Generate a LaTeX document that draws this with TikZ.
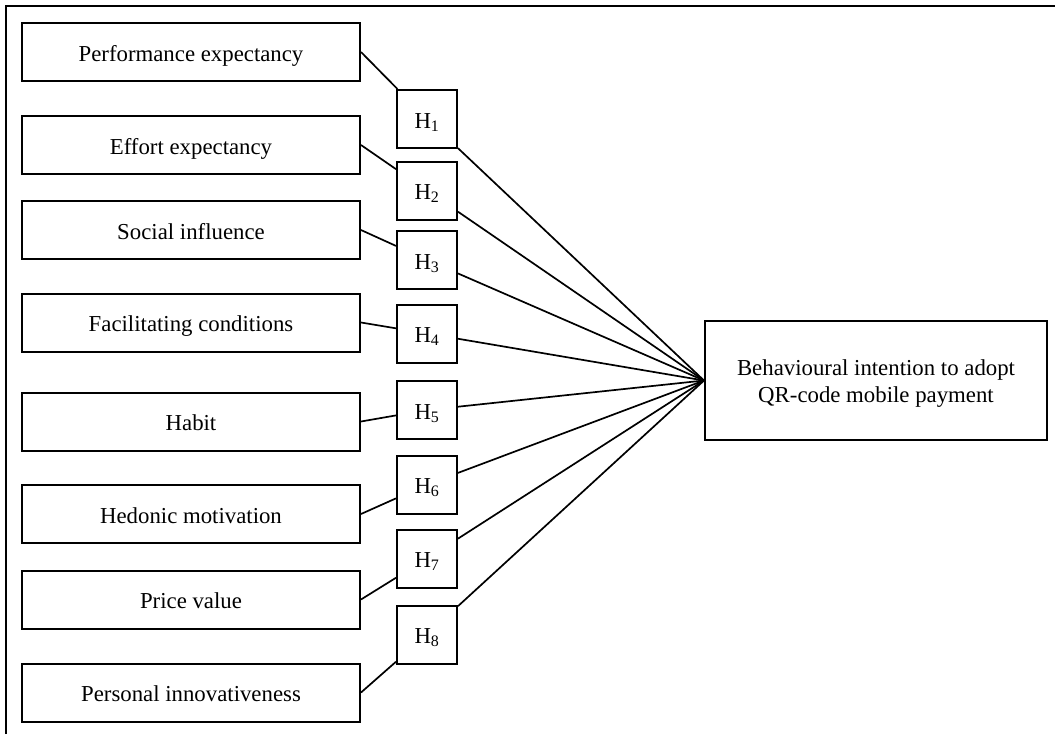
\documentclass[tikz,border=0pt]{standalone}
\usepackage{fontspec}
\setmainfont{Liberation Serif}
\begin{document}
\begin{tikzpicture}[x=1pt,y=-1pt,
  factor/.style={draw,line width=2pt,minimum width=338pt,minimum height=58pt,inner sep=0pt,text height=18pt,text depth=0pt,font=\fontsize{22.8}{27}\selectfont},
  hyp/.style={draw,line width=2pt,minimum width=60pt,minimum height=58pt,inner sep=0pt,text height=18pt,text depth=0pt,font=\fontsize{22.8}{27}\selectfont},
  target/.style={draw,line width=2pt,minimum width=342pt,minimum height=119pt,inner sep=0pt,align=center,font=\fontsize{22.8}{27}\selectfont},
  conn/.style={line width=1.7pt},
  frame/.style={line width=2pt}]
\useasboundingbox (0,0) rectangle (1055,734);
\draw[frame] (6,734) -- (6,5.5) -- (1055,5.5);

\node[factor] (b1) at (191,52) {Performance expectancy};
\node[factor] (b2) at (191,145) {Effort expectancy};
\node[factor] (b3) at (191,230) {Social influence};
\node[factor] (b4) at (191,322.5) {Facilitating conditions};
\node[factor] (b5) at (191,421.5) {Habit};
\node[factor] (b6) at (191,514) {Hedonic motivation};
\node[factor] (b7) at (191,599.5) {Price value};
\node[factor] (b8) at (191,692.5) {Personal innovativeness};

\node[hyp] (h1) at (427,119) {H\textsubscript{1}};
\node[hyp] (h2) at (427,190.5) {H\textsubscript{2}};
\node[hyp] (h3) at (427,260) {H\textsubscript{3}};
\node[hyp] (h4) at (427,333.5) {H\textsubscript{4}};
\node[hyp] (h5) at (427,410) {H\textsubscript{5}};
\node[hyp] (h6) at (427,484.5) {H\textsubscript{6}};
\node[hyp] (h7) at (427,558.5) {H\textsubscript{7}};
\node[hyp] (h8) at (427,634.5) {H\textsubscript{8}};

\node[target] (t) at (876,380.5) {\rule{0pt}{22pt}Behavioural intention to adopt\\QR-code mobile payment};

\foreach \i in {1,...,8} {
  \draw[conn] (b\i.east) -- (h\i);
  \draw[conn] (h\i) -- (t.west);
}
\end{tikzpicture}
\end{document}
